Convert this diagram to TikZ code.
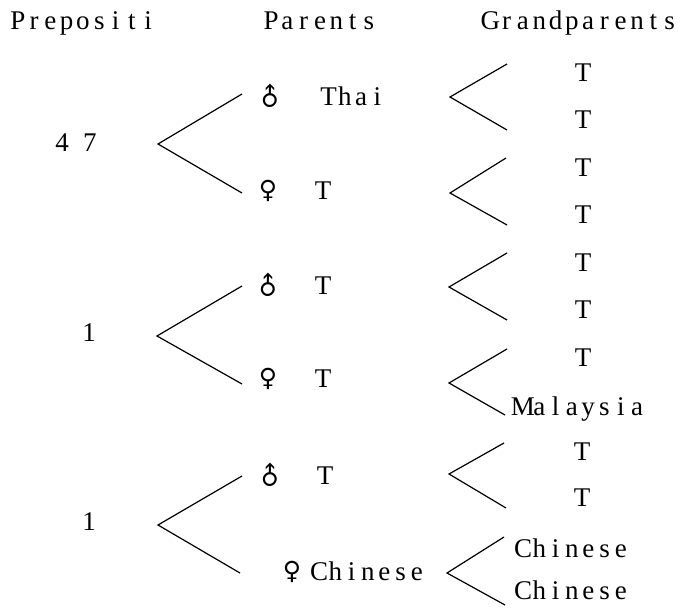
\documentclass[tikz,border=0pt]{standalone}
\usepackage{fontspec}
\setmainfont{Liberation Serif}
\newfontfamily\symfont{DejaVu Sans}
% fixed-pitch setting: every character sits in a box of equal width
\newlength\monopitch
\setlength\monopitch{16.3pt}
\def\monoloop#1{\ifx#1\relax\else\makebox[\monopitch]{#1}\expandafter\monoloop\fi}
\newcommand\mono[1]{\monoloop#1\relax}
\newcommand\malesign{\rotatebox[origin=c]{45}{\symfont\fontsize{25pt}{27pt}\selectfont ♂}}
\newcommand\femalesign{{\symfont\fontsize{25pt}{27pt}\selectfont ♀}}
\begin{document}
\begin{tikzpicture}[x=1pt,y=-1pt,
  lbl/.style={inner sep=0pt,font=\fontsize{27pt}{30pt}\selectfont,text height=17pt,text depth=0pt},
  sym/.style={inner sep=0pt},
  fork/.style={line width=1.2pt,line join=miter}]
\useasboundingbox (0,0) rectangle (682,609);

% column headings
\node[lbl] (hprop) at (83,21) {\mono{Prepositi}};
\node[lbl] (hpar)  at (320,21) {\mono{Parents}};
\node[lbl] (hgra)  at (580,21) {\mono{Grandparents}};

% number of propositi
\node[lbl] (n1) at (76,143) {\setlength\monopitch{14pt}\mono{4~7}};
\node[lbl] (n2) at (89,333) {1};
\node[lbl] (n3) at (89,522) {1};

% parents
\node[sym] (m1) at (270,97)  {\malesign};
\node[lbl] (p1) at (353,97)  {\mono{Thai}};
\node[sym] (f1) at (268,191) {\femalesign};
\node[lbl] (p2) at (323,191) {T};
\node[sym] (m2) at (268,286) {\malesign};
\node[lbl] (p3) at (323,286) {T};
\node[sym] (f2) at (268,379) {\femalesign};
\node[lbl] (p4) at (323,379) {T};
\node[sym] (m3) at (270,476) {\malesign};
\node[lbl] (p5) at (325,476) {T};
\node[sym] (f3) at (292,572) {\femalesign};
\node[lbl] (p6) at (368,572) {\mono{Chinese}};

% grandparents
\node[lbl] (g1)  at (583,73)  {T};
\node[lbl] (g2)  at (583,120) {T};
\node[lbl] (g3)  at (583,168) {T};
\node[lbl] (g4)  at (583,215) {T};
\node[lbl] (g5)  at (583,263) {T};
\node[lbl] (g6)  at (583,310) {T};
\node[lbl] (g7)  at (583,358) {T};
\node[lbl] (g8)  at (580,407) {\mono{Malaysia}};
\node[lbl] (g9)  at (582,452) {T};
\node[lbl] (g10) at (582,498) {T};
\node[lbl] (g11) at (572,549) {\mono{Chinese}};
\node[lbl] (g12) at (572,591) {\mono{Chinese}};

% forks from propositi to parents
\coordinate (la1) at (158,144); \coordinate (lt1) at (242,94);  \coordinate (lb1) at (242,193);
\coordinate (la2) at (157,336); \coordinate (lt2) at (242,286); \coordinate (lb2) at (242,384);
\coordinate (la3) at (158,525); \coordinate (lt3) at (242,476); \coordinate (lb3) at (240,573);
\foreach \i in {1,2,3} \draw[fork] (lt\i) -- (la\i) -- (lb\i);

% forks from parents to grandparents
\coordinate (ra1) at (450,97);  \coordinate (rt1) at (507,64);  \coordinate (rb1) at (507,130);
\coordinate (ra2) at (450,193); \coordinate (rt2) at (506,158); \coordinate (rb2) at (507,225);
\coordinate (ra3) at (449,287); \coordinate (rt3) at (507,253); \coordinate (rb3) at (507,320);
\coordinate (ra4) at (449,383); \coordinate (rt4) at (507,349); \coordinate (rb4) at (505,415);
\coordinate (ra5) at (449,474); \coordinate (rt5) at (504,443); \coordinate (rb5) at (506,508);
\coordinate (ra6) at (447,573); \coordinate (rt6) at (504,537); \coordinate (rb6) at (505,605);
\foreach \i in {1,...,6} \draw[fork] (rt\i) -- (ra\i) -- (rb\i);
\end{tikzpicture}
\end{document}
